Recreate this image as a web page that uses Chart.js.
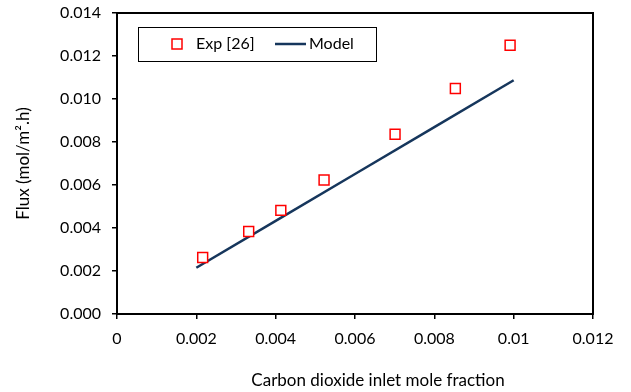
<!DOCTYPE html>
<html>
<head>
<meta charset="utf-8">
<script src="https://cdn.jsdelivr.net/npm/chart.js@4"></script>
<style>
  html, body { margin: 0; padding: 0; background: #fff; }
  #wrap { width: 631px; height: 392px; }
</style>
</head>
<body>
<div id="wrap"><canvas id="fluxChart" width="631" height="392"></canvas></div>
<script>
// experimental points
const expX = [0.00216, 0.00332, 0.00413, 0.00522, 0.00701, 0.00853, 0.00991];
const expY = [0.00263, 0.00384, 0.00482, 0.00623, 0.00836, 0.01049, 0.0125];
// model curve
const modelX = [0.002, 0.004, 0.006, 0.008, 0.01];
const modelY = [0.00215, 0.00433, 0.00651, 0.00869, 0.01087];
const seriesNames = ['Exp [26]', 'Model'];
const xTitle = 'Carbon dioxide inlet mole fraction';
const yTitle = 'Flux (mol/m\u00B2.h)';

const FONT = 'Lato, "Open Sans", sans-serif';

// frame + legend box + x title drawn by hand
const decorations = {
  id: 'decorations',
  afterDraw(chart) {
    const ctx = chart.ctx;
    const a = chart.chartArea;
    ctx.save();
    ctx.strokeStyle = '#000';
    ctx.lineWidth = 2;
    ctx.strokeRect(a.left, a.top, a.right - a.left, a.bottom - a.top);

    // legend
    ctx.lineWidth = 1;
    ctx.strokeRect(138.5, 27.5, 238, 34);
    ctx.strokeStyle = '#ff0000';
    ctx.lineWidth = 1.5;
    ctx.fillStyle = '#fff';
    ctx.fillRect(172, 39, 10, 10);
    ctx.strokeRect(172, 39, 10, 10);
    ctx.strokeStyle = '#16365c';
    ctx.lineWidth = 2.5;
    ctx.beginPath();
    ctx.moveTo(275, 44);
    ctx.lineTo(306, 44);
    ctx.stroke();
    ctx.fillStyle = '#000';
    ctx.font = '16px ' + FONT;
    ctx.textBaseline = 'middle';
    ctx.textAlign = 'left';
    ctx.fillText(seriesNames[0], 196, 44);
    ctx.fillText(seriesNames[1], 309, 44);

    // x axis title
    ctx.font = '17px ' + FONT;
    ctx.textAlign = 'center';
    ctx.fillText(xTitle, 378, 381);
    ctx.restore();
  }
};

const ctx = document.getElementById('fluxChart').getContext('2d');
new Chart(ctx, {
  type: 'scatter',
  data: {
    datasets: [
      {
        label: seriesNames[0],
        data: expX.map((x, i) => ({ x: x, y: expY[i] })),
        pointStyle: 'rect',
        pointRadius: 7,
        pointHoverRadius: 7,
        pointBorderWidth: 1.5,
        borderColor: '#ff0000',
        backgroundColor: '#ffffff',
        showLine: false,
        order: 1
      },
      {
        label: seriesNames[1],
        data: modelX.map((x, i) => ({ x: x, y: modelY[i] })),
        showLine: true,
        borderColor: '#16365c',
        borderWidth: 2.5,
        pointRadius: 0,
        fill: false,
        order: 2
      }
    ]
  },
  options: {
    responsive: false,
    animation: false,
    layout: { padding: { top: 13, right: 38, left: 0, bottom: 0 } },
    plugins: {
      legend: { display: false },
      tooltip: { enabled: false }
    },
    scales: {
      x: {
        type: 'linear',
        min: 0,
        max: 0.012,
        afterFit(scale) {
          scale.height = 78;
          scale.paddingLeft = 0;
          scale.paddingRight = 0;
        },
        ticks: {
          stepSize: 0.002,
          padding: 10,
          color: '#000',
          font: { size: 16, family: FONT },
          maxRotation: 0,
          callback: v => v === 0 ? '0' : String(+v.toFixed(3))
        },
        grid: { drawOnChartArea: false, tickLength: 5, color: '#000', lineWidth: 1.5 },
        border: { display: false }
      },
      y: {
        type: 'linear',
        min: 0,
        max: 0.014,
        afterFit(scale) {
          scale.width = 117;
          scale.paddingTop = 0;
          scale.paddingBottom = 0;
        },
        ticks: {
          stepSize: 0.002,
          padding: 11,
          color: '#000',
          font: { size: 16, family: FONT },
          callback: v => v.toFixed(3)
        },
        title: {
          display: true,
          text: yTitle,
          color: '#000',
          font: { size: 17, family: FONT },
          padding: { top: 13, bottom: 0 }
        },
        grid: { drawOnChartArea: false, tickLength: 5, color: '#000', lineWidth: 1.5 },
        border: { display: false }
      }
    }
  },
  plugins: [decorations]
});
</script>
</body>
</html>
